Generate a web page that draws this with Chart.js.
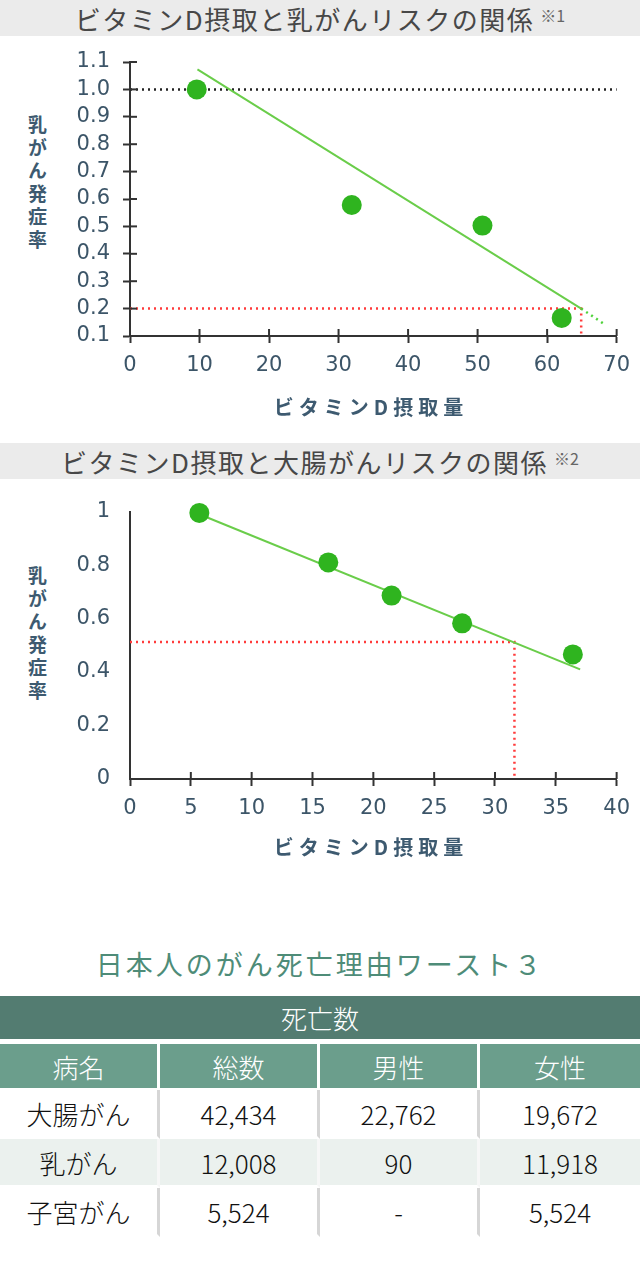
<!DOCTYPE html>
<html lang="ja">
<head>
<meta charset="utf-8">
<script src="https://cdn.jsdelivr.net/npm/chart.js@4.4.1/dist/chart.umd.min.js"></script>
<style>
  html, body { margin: 0; padding: 0; background: #fff; }
  body { position: relative; width: 640px; height: 1276px; overflow: hidden; font-family: "Noto Sans CJK JP", sans-serif; }
  .band { position: absolute; left: 0; width: 640px; height: 36px; background: #ebebeb; color: #474747;
          font-size: 26px; letter-spacing: 1.5px; text-align: center; line-height: 38px; white-space: nowrap; overflow: hidden; }
  .band sup { font-size: 16px; vertical-align: 8px; line-height: 0; margin-left: 6px; letter-spacing: 0; color: #666; }
  .ytitle { position: absolute; left: 24px; writing-mode: vertical-rl; text-orientation: upright;
            font-size: 19px; letter-spacing: 4px; color: #3d5a70; font-weight: bold; }
  .xtitle { position: absolute; left: 126px; width: 490px; text-align: center; font-size: 20px;
            letter-spacing: 5px; color: #3d5a70; font-weight: bold; line-height: 20px; }
  canvas { position: absolute; left: 0; }
  #tableTitle { position: absolute; top: 947px; left: 0; width: 640px; text-align: center; font-size: 27px;
                letter-spacing: 3px; color: #4e8c78; line-height: 34px; }
  table { position: absolute; top: 996px; left: 0; width: 640px; border-collapse: separate; border-spacing: 0;
          table-layout: fixed; font-size: 26px; }
  td, th { padding: 0; text-align: center; font-weight: 300; }
  .deaths th { background: #537c71; color: #fff; height: 43px; border-bottom: 5px solid #fff; }
  .head th { background: #6b9e8c; color: #fff; height: 44px; border-right: 3px solid #fff; border-bottom: 2px solid #fff; }
  .head th:last-child { border-right: 0; }
  tbody td { height: 46px; color: #111; border-right: 3px solid #d6d6d6; border-bottom: 3px solid #fff; }
  tbody td:last-child { border-right: 0; }
  tbody tr:nth-child(2) td { background: #ebf1ee; border-right-color: #f7f7f7; }
</style>
</head>
<body>

<div class="band" style="top:0">ビタミンD摂取と乳がんリスクの関係<sup>※1</sup></div>
<div class="ytitle" style="top:115px">乳がん発症率</div>
<canvas id="chart-breast" width="640" height="400" style="top:36px"></canvas>
<div class="xtitle" style="top:397px">ビタミンD摂取量</div>

<div class="band" style="top:443px">ビタミンD摂取と大腸がんリスクの関係<sup>※2</sup></div>
<div class="ytitle" style="top:566px">乳がん発症率</div>
<canvas id="chart-colon" width="640" height="400" style="top:479px"></canvas>
<div class="xtitle" style="top:837px">ビタミンD摂取量</div>

<div id="tableTitle">日本人のがん死亡理由ワースト３</div>
<table id="deaths-table"></table>

<script>
// Breast cancer vs vitamin D
const breastDose = [9.6, 31.9, 50.7, 62.1];
const breastRisk = [1.0, 0.578, 0.503, 0.166];
const breastTrendX = [9.7, 64.9];
const breastTrendY = [1.073, 0.2];
const breastExtX = [64.9, 68.3];
const breastExtY = [0.2, 0.142];
const breastBaseX = [0, 70];
const breastBaseY = [1.0, 1.0];
const breastCutX = [0, 64.9, 64.9];
const breastCutY = [0.2, 0.2, 0.1];
const breastXTicks = [0, 10, 20, 30, 40, 50, 60, 70];
const breastYTicks = [0.1, 0.2, 0.3, 0.4, 0.5, 0.6, 0.7, 0.8, 0.9, 1.0, 1.1];

// Colon cancer vs vitamin D
const colonDose = [5.7, 16.3, 21.5, 27.3, 36.4];
const colonRisk = [0.995, 0.81, 0.686, 0.582, 0.466];
const colonTrendX = [5.7, 37.0];
const colonTrendY = [0.99, 0.41];
const colonCutX = [0, 31.6, 31.6];
const colonCutY = [0.512, 0.512, 0];
const colonXTicks = [0, 5, 10, 15, 20, 25, 30, 35, 40];
const colonYTicks = [0, 0.2, 0.4, 0.6, 0.8, 1];

// Death table
const tableHead = ["病名", "総数", "男性", "女性"];
const cancers = ["大腸がん", "乳がん", "子宮がん"];
const deathsTotal = ["42,434", "12,008", "5,524"];
const deathsMale = ["22,762", "90", "-"];
const deathsFemale = ["19,672", "11,918", "5,524"];

const GREEN_DOT = "#2fb41f";
const GREEN_LINE = "#6acd4a";
const AXIS = "#333";
const TICK_TEXT = "#3c5568";
const TICK_FONT = { family: "'DejaVu Sans', sans-serif", size: 21 };

const pts = (xs, ys) => xs.map((x, i) => ({ x: x, y: ys[i] }));

// draws the half of each tick mark that sits inside the plot
const crossTicks = {
  id: "crossTicks",
  afterDraw(chart, args, opts) {
    const ctx = chart.ctx;
    ctx.save();
    ctx.strokeStyle = AXIS;
    ctx.lineWidth = 2;
    (opts.axes || []).forEach(id => {
      const s = chart.scales[id];
      s.ticks.forEach(t => {
        const p = s.getPixelForValue(t.value);
        ctx.beginPath();
        if (s.isHorizontal()) {
          ctx.moveTo(p, s.top);
          ctx.lineTo(p, s.top - 7);
        } else {
          ctx.moveTo(s.right, p);
          ctx.lineTo(s.right + 7, p);
        }
        ctx.stroke();
      });
    });
    ctx.restore();
  }
};

function lineSet(data, color, dash, width) {
  return {
    data: data,
    showLine: true,
    borderColor: color,
    borderWidth: width || 2,
    borderDash: dash || [],
    pointRadius: 0,
    fill: false,
    clip: false,
  };
}

function axisX(ticks, max, height) {
  return {
    type: "linear",
    min: 0,
    max: max,
    afterBuildTicks: s => { s.ticks = ticks.map(v => ({ value: v })); },
    afterFit: s => { s.height = height; },
    grid: { drawOnChartArea: false, drawTicks: true, tickLength: 7, tickWidth: 2, tickColor: AXIS },
    border: { display: true, color: AXIS, width: 2 },
    ticks: { font: TICK_FONT, color: TICK_TEXT, padding: 10, maxRotation: 0, autoSkip: false },
  };
}

function axisY(ticks, min, max, withTicks, fmt) {
  return {
    type: "linear",
    min: min,
    max: max,
    afterBuildTicks: s => { s.ticks = ticks.map(v => ({ value: v })); },
    afterFit: s => { s.width = 130; },
    grid: { drawOnChartArea: false, drawTicks: withTicks, tickLength: 7, tickWidth: 2, tickColor: AXIS },
    border: { display: true, color: AXIS, width: 2 },
    ticks: {
      font: TICK_FONT, color: TICK_TEXT,
      padding: withTicks ? 13 : 20, autoSkip: false,
      callback: fmt,
    },
  };
}

const common = {
  responsive: false,
  animation: false,
  plugins: { legend: { display: false }, tooltip: { enabled: false } },
};

// Chart 1
new Chart(document.getElementById("chart-breast"), {
  type: "scatter",
  data: {
    datasets: [
      { data: pts(breastDose, breastRisk), backgroundColor: GREEN_DOT, borderWidth: 0, pointRadius: 10, clip: false },
      lineSet(pts(breastTrendX, breastTrendY), GREEN_LINE),
      lineSet(pts(breastExtX, breastExtY), "#4fd23a", [2, 4], 2.5),
      lineSet(pts(breastBaseX, breastBaseY), "#222", [2, 4], 2.5),
      lineSet(pts(breastCutX, breastCutY), "#ff3b3b", [2, 4], 2.5),
    ],
  },
  options: Object.assign({}, common, {
    layout: { padding: { top: 26, right: 21, left: 0, bottom: 0 } },
    scales: {
      x: axisX(breastXTicks, 70, 100),
      y: axisY(breastYTicks, 0.1, 1.1, true, v => Number(v).toFixed(1)),
    },
    plugins: Object.assign({}, common.plugins, { crossTicks: { axes: ["x", "y"] } }),
  }),
  plugins: [crossTicks],
});

// Chart 2
new Chart(document.getElementById("chart-colon"), {
  type: "scatter",
  data: {
    datasets: [
      { data: pts(colonDose, colonRisk), backgroundColor: GREEN_DOT, borderWidth: 0, pointRadius: 10, clip: false },
      lineSet(pts(colonTrendX, colonTrendY), GREEN_LINE),
      lineSet(pts(colonCutX, colonCutY), "#ff3b3b", [2, 4], 2.5),
    ],
  },
  options: Object.assign({}, common, {
    layout: { padding: { top: 28, right: 21, left: 0, bottom: 0 } },
    scales: {
      x: axisX(colonXTicks, 40, 100),
      y: axisY(colonYTicks, 0, 1, false, v => String(v)),
    },
    plugins: Object.assign({}, common.plugins, { crossTicks: { axes: ["x"] } }),
  }),
  plugins: [crossTicks],
});

// Table
const tbl = document.getElementById("deaths-table");
let html = '<colgroup><col style="width:160px"><col style="width:160px"><col style="width:160px"><col style="width:160px"></colgroup>';
html += '<thead><tr class="deaths"><th colspan="4">死亡数</th></tr><tr class="head">';
tableHead.forEach(h => { html += "<th>" + h + "</th>"; });
html += "</tr></thead><tbody>";
cancers.forEach((c, i) => {
  html += "<tr><td>" + c + "</td><td>" + deathsTotal[i] + "</td><td>" + deathsMale[i] + "</td><td>" + deathsFemale[i] + "</td></tr>";
});
html += "</tbody>";
tbl.innerHTML = html;
</script>
</body>
</html>
